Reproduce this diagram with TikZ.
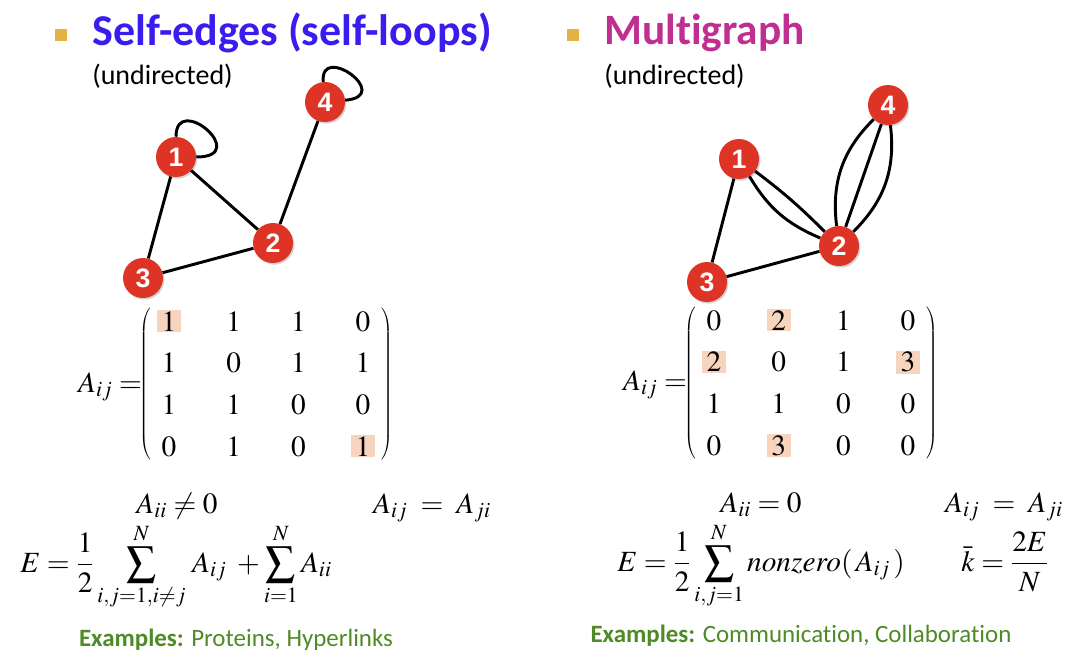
\documentclass[tikz,border=0pt]{standalone}
\usepackage{mathptmx}
\usepackage[no-math]{fontspec}
\setmainfont{Carlito}[Ligatures=NoCommon]
\newfontfamily\numfont{Liberation Sans}
\usepackage{xcolor}
\definecolor{slblue}{RGB}{58,28,238}
\definecolor{mgpink}{RGB}{192,46,146}
\definecolor{bulletgold}{RGB}{226,178,66}
\definecolor{nodered}{RGB}{222,52,38}
\definecolor{exgreen}{RGB}{78,138,38}
\definecolor{hlpeach}{RGB}{246,212,190}
\usepackage{tikz}
\usetikzlibrary{matrix, positioning, shadows}

\tikzset{
  vertex/.style={circle, fill=nodered, minimum size=30pt, inner sep=0pt, text=white,
                 font=\numfont\bfseries\fontsize{20}{20}\selectfont,
                 drop shadow={opacity=0.35, shadow xshift=1pt, shadow yshift=-1.2pt}},
  link/.style={line width=2.2pt, black},
  bullet/.style={fill=bulletgold, minimum size=9pt, inner sep=0pt},
  hl/.style={fill=hlpeach, minimum width=18pt, minimum height=16pt},
  adjmat/.style={matrix of math nodes, left delimiter=(, right delimiter=),
                 nodes={inner sep=1pt, font=\fontsize{22}{22}\selectfont},
                 column sep={48.5pt,between origins}, row sep={31.25pt,between origins}},
  formula/.style={font=\fontsize{22}{26}\selectfont, inner sep=0pt, anchor=base},
  example/.style={font=\fontsize{18.7}{22}\selectfont, text=exgreen, inner sep=0pt, anchor=base},
}

\begin{document}
\begin{tikzpicture}[x=0.75pt, y=-0.75pt]
\useasboundingbox (0,0) rectangle (1075,657);

% === Left: self-edges ===
\node[bullet] (lbul) at (61,35) {};
\node[anchor=west, inner sep=0pt, font=\bfseries\fontsize{33}{36}\selectfont, text=slblue]
      (ltitle) at (92,33) {Self-edges (self-loops)};
\node[anchor=west, inner sep=0pt, font=\fontsize{21}{24}\selectfont]
      (lsub) at (92,76) {(undirected)};

% Graph with loops
\node[vertex] (s1) at (176,157) {1};
\node[vertex] (s2) at (273,243) {2};
\node[vertex] (s3) at (143,278) {3};
\node[vertex] (s4) at (325,102) {4};
\draw[link] (s1) -- (s2);
\draw[link] (s1) -- (s3);
\draw[link] (s3) -- (s2);
\draw[link] (s2) -- (s4);
\draw[link] (s1) to[out=90, in=0, out distance=34pt, in distance=42pt] (s1);
\draw[link] (s4) to[out=95, in=5, out distance=30pt, in distance=37pt] (s4);

% Adjacency matrix
\node[font=\fontsize{22}{22}\selectfont, inner sep=0pt, anchor=base] (laij) at (110,392) {$A_{ij}=$};
\matrix[adjmat] (lmat) at (266,384) {
  |[hl]| 1 & 1 & 1 & 0 \\
  1 & 0 & 1 & 1 \\
  1 & 1 & 0 & 0 \\
  0 & 1 & 0 & |[hl]| 1 \\
};

% Formulas
\node[formula] (laii) at (177,513) {$A_{ii}\neq 0$};
\node[formula] (lsym) at (432,513) {$A_{ij}\;=\;A_{ji}$};
\node[formula] (ledges) at (176,572)
     {$\displaystyle E=\frac{1}{2}\sum_{i,j=1,i\neq j}^{N}\,A_{ij}\;+\sum_{i=1}^{N}A_{ii}$};

\node[example] (lex) at (236,646) {\textbf{Examples:} Proteins, Hyperlinks};

% === Right: multigraph ===
\node[bullet] (rbul) at (573,35) {};
\node[anchor=west, inner sep=0pt, font=\bfseries\fontsize{32.5}{36}\selectfont, text=mgpink]
      (rtitle) at (604,33) {Multigraph};
\node[anchor=west, inner sep=0pt, font=\fontsize{21}{24}\selectfont]
      (rsub) at (604,76) {(undirected)};

% Graph with multi-edges
\node[vertex] (m1) at (739,159) {1};
\node[vertex] (m2) at (839,246) {2};
\node[vertex] (m3) at (707,282) {3};
\node[vertex] (m4) at (888,105) {4};
\draw[link] (m1) -- (m3);
\draw[link] (m3) -- (m2);
\draw[link] (m1) to[bend left=4] (m2);
\draw[link] (m1) to[bend right=18] (m2);
\draw[link] (m2) -- (m4);
\draw[link] (m2) to[bend left=26] (m4);
\draw[link] (m2) to[bend right=26] (m4);

% Adjacency matrix
\node[font=\fontsize{22}{22}\selectfont, inner sep=0pt, anchor=base] (raij) at (655,390) {$A_{ij}=$};
\matrix[adjmat] (rmat) at (811,383) {
  0 & |[hl]| 2 & 1 & 0 \\
  |[hl]| 2 & 0 & 1 & |[hl]| 3 \\
  1 & 1 & 0 & 0 \\
  0 & |[hl]| 3 & 0 & 0 \\
};

% Formulas
\node[formula] (raii) at (761,512) {$A_{ii}=0$};
\node[formula] (rsym) at (1004,512) {$A_{ij}\;=\;A_{ji}$};
\node[formula] (redges) at (761,571)
     {$\displaystyle E=\frac{1}{2}\sum_{i,j=1}^{N}nonzero(\,A_{ij}\,)$};
\node[formula] (rdeg) at (1005,571) {$\displaystyle \bar{k}=\frac{2E}{N}$};

\node[example] (rex) at (801,642) {\textbf{Examples:} Communication, Collaboration};

\end{tikzpicture}
\end{document}
